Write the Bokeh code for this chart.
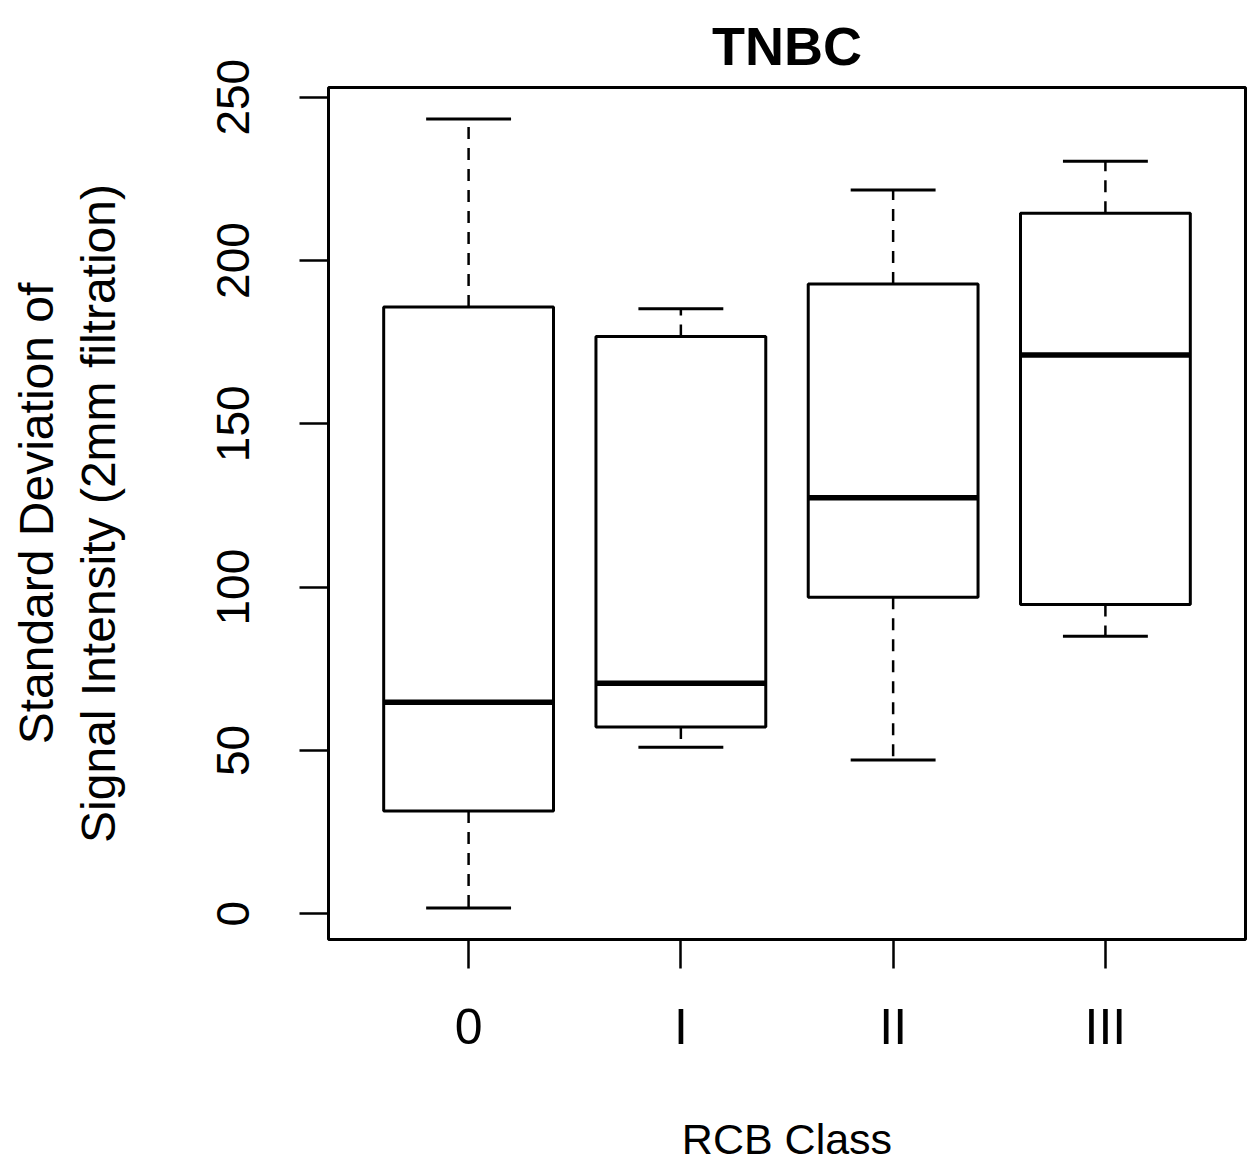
from bokeh.plotting import figure
from bokeh.models import Range1d, FixedTicker, Title, ColumnDataSource
from bokeh.embed import file_html
from bokeh.resources import INLINE

# ---- data ----
categories = ["0", "I", "II", "III"]
lower_whisker = [1.8, 51.0, 47.1, 85.0]
q1 = [31.5, 57.2, 96.9, 94.7]
median = [64.8, 70.6, 127.4, 171.1]
q3 = [185.8, 176.7, 192.8, 214.5]
upper_whisker = [243.3, 185.2, 221.6, 230.4]
y_ticks = [0, 50, 100, 150, 200, 250]
title_text = "TNBC"

FONT = "Liberation Sans"
BOX_W = 0.8
STAPLE_W = 0.4

n = len(categories)
xpos = list(range(1, n + 1))

src = ColumnDataSource(dict(
    x=xpos,
    lw=lower_whisker, q1=q1, med=median, q3=q3, uw=upper_whisker,
    bl=[x - BOX_W / 2 for x in xpos], br=[x + BOX_W / 2 for x in xpos],
    sl=[x - STAPLE_W / 2 for x in xpos], sr=[x + STAPLE_W / 2 for x in xpos],
))

lo, hi = min(lower_whisker), max(upper_whisker)
ypad = 0.04 * (hi - lo)
xpad = 0.04 * n
x_range = Range1d(0.5 - xpad, n + 0.5 + xpad)
y_range = Range1d(lo - ypad, hi + ypad)

p = figure(
    width=1256, height=1165,
    x_range=x_range, y_range=y_range,
    output_backend="svg", toolbar_location=None,
    min_border_left=328, min_border_right=11,
    min_border_top=87, min_border_bottom=225,
)
p.background_fill_color = "white"
p.border_fill_color = "white"
p.outline_line_color = "black"
p.outline_line_width = 3
p.xgrid.visible = False
p.ygrid.visible = False

# whiskers (dashed)
p.segment(x0="x", y0="q3", x1="x", y1="uw", source=src,
          line_color="black", line_width=2.5, line_dash="12 9")
p.segment(x0="x", y0="q1", x1="x", y1="lw", source=src,
          line_color="black", line_width=2.5, line_dash="12 9")
# staples
p.segment(x0="sl", y0="uw", x1="sr", y1="uw", source=src,
          line_color="black", line_width=3)
p.segment(x0="sl", y0="lw", x1="sr", y1="lw", source=src,
          line_color="black", line_width=3)
# boxes
p.vbar(x="x", width=BOX_W, bottom="q1", top="q3", source=src,
       fill_color="white", line_color="black", line_width=3)
# medians
p.segment(x0="bl", y0="med", x1="br", y1="med", source=src,
          line_color="black", line_width=5.5)

# axes
p.yaxis.ticker = FixedTicker(ticks=y_ticks)
p.xaxis.ticker = FixedTicker(ticks=xpos)
p.xaxis.major_label_overrides = {x: c for x, c in zip(xpos, categories)}
p.yaxis.major_label_orientation = "vertical"
for ax in (p.xaxis, p.yaxis):
    ax.axis_line_color = None
    ax.major_tick_out = 29
    ax.major_tick_in = 0
    ax.minor_tick_out = 0
    ax.minor_tick_in = 0
    ax.major_tick_line_color = "black"
    ax.major_tick_line_width = 2.5
    ax.major_label_text_font = FONT
    ax.major_label_text_color = "black"
    ax.axis_label_text_font = FONT
    ax.axis_label_text_font_style = "normal"
    ax.axis_label_text_color = "black"
p.xaxis.major_label_text_font_size = "50px"
p.yaxis.major_label_text_font_size = "46px"
p.xaxis.major_label_standoff = 30
p.yaxis.major_label_standoff = 50

p.xaxis.axis_label = "RCB Class"
p.xaxis.axis_label_text_font_size = "43px"
p.xaxis.axis_label_standoff = 57

p.yaxis.axis_label = "Signal Intensity (2mm filtration)"
p.yaxis.axis_label_text_font_size = "48px"
p.yaxis.axis_label_standoff = 90

p.add_layout(Title(text="Standard Deviation of", align="center",
                   text_font=FONT, text_font_size="48px",
                   text_font_style="normal", text_color="black",
                   standoff=11), "left")

p.title.text = title_text
p.title.align = "center"
p.title.text_font = FONT
p.title.text_font_size = "54px"
p.title.text_font_style = "bold"
p.title.text_color = "black"
p.title.standoff = 24

open("out.html", "w").write(file_html(p, INLINE))
